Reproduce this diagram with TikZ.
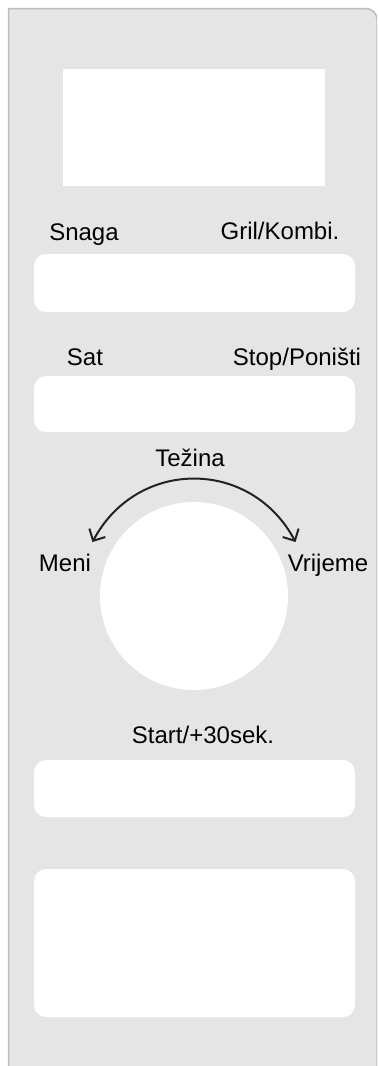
\documentclass[tikz,border=0pt]{standalone}
\usepackage{fontspec}
\setmainfont{Liberation Sans}
\usetikzlibrary{arrows.meta}

\definecolor{panelfill}{HTML}{E5E5E5}
\definecolor{paneledge}{HTML}{BDBDBD}
\definecolor{dialgrey}{HTML}{222222}

\begin{document}
\begin{tikzpicture}[x=0.5pt,y=-0.5pt]
        \tikzstyle{every node}=[font=\fontsize{12}{14}\selectfont]

        \edef\keywidth{160.5pt}
        \tikzstyle{key}=[fill=white,rounded corners=6pt,inner sep=0pt,minimum width=\keywidth]
        \tikzstyle{lbl}=[anchor=base,inner sep=0pt,text=black]
        \tikzstyle{dialarrow}=[draw=dialgrey,line width=1pt,{Straight Barb[length=4.5pt,width=9pt]}-{Straight Barb[length=4.5pt,width=9pt]}]

        \useasboundingbox (0,0) rectangle (377,1066);
        \clip (0,0) rectangle (377,1066);
        \fill[white] (0,0) rectangle (377,1066);

        % front panel
        \filldraw[fill=panelfill,draw=paneledge,line width=0.75pt]
            (8.5,1075) -- (8.5,8.5) -- (366,8.5)
            arc[start angle=-90,end angle=0,radius=11] -- (377,1075);

        % display and keys
        \node[fill=white,inner sep=0pt,minimum width=131pt,minimum height=58.5pt] (display) at (194,127.5) {};
        \node[key,minimum height=29pt] (keyrow1) at (194.5,283) {};
        \node[key,minimum height=28pt] (keyrow2) at (194.5,404) {};
        \node[circle,fill=white,inner sep=0pt,minimum size=94pt] (knob) at (194,596) {};
        \node[key,minimum height=28.5pt] (startkey) at (194.5,788.5) {};
        \node[key,minimum height=74pt] (bigkey) at (194.5,943) {};

        % labels
        \node[lbl] (lsnaga) at (84,240) {Snaga};
        \node[lbl] (lgril) at (280,239) {Gril/Kombi.};
        \node[lbl] (lsat) at (85,365) {Sat};
        \node[lbl] (lstop) at (297,365) {Stop/Poništi};
        \node[lbl] (ltezina) at (190,466) {Težina};
        \node[lbl] (lmeni) at (65,571) {Meni};
        \node[lbl] (lvrijeme) at (328,571) {Vrijeme};
        \node[lbl] (lstart) at (203,743) {Start/+30sek.};

        % dial arrow
        \path (knob.center) ++(-152:115) coordinate (dialL);
        \path (knob.center) ++(-28:115) coordinate (dialR);
        \draw[dialarrow] (dialL) to[out=62,in=118,looseness=1.2] (dialR);
\end{tikzpicture}
\end{document}
